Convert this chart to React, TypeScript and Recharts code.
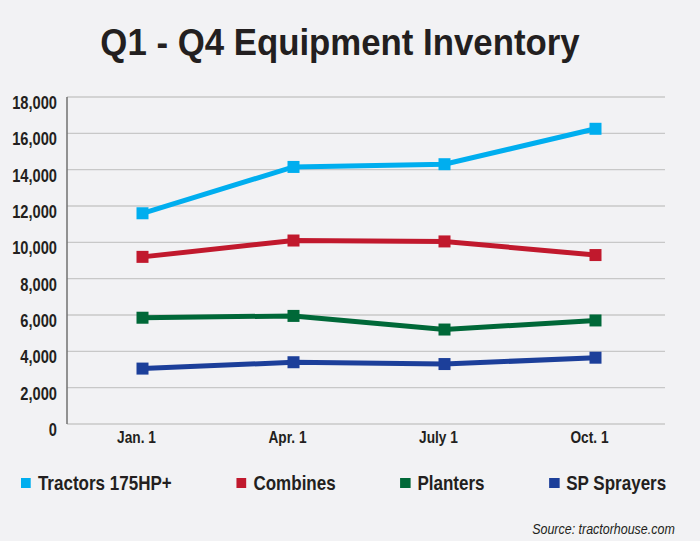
import React from "react";
import {
  LineChart,
  Line,
  XAxis,
  YAxis,
  CartesianGrid,
} from "recharts";

document.body.style.margin = "0";

const quarters = ["Jan. 1", "Apr. 1", "July 1", "Oct. 1"];
const tractors = [11600, 14150, 14300, 16250];
const combines = [9200, 10100, 10050, 9300];
const planters = [5850, 5950, 5200, 5700];
const sprayers = [3050, 3400, 3300, 3650];
const yTicks = [0, 2000, 4000, 6000, 8000, 10000, 12000, 14000, 16000, 18000];
const boundaryTicks = [1, 2, 3, 4];

const series = [
  { key: "tractors", name: "Tractors 175HP+", color: "#00aeef" },
  { key: "combines", name: "Combines", color: "#c1192d" },
  { key: "planters", name: "Planters", color: "#006838" },
  { key: "sprayers", name: "SP Sprayers", color: "#1c3f9a" },
];

const data = quarters.map((q, i) => ({
  name: q,
  tractors: tractors[i],
  combines: combines[i],
  planters: planters[i],
  sprayers: sprayers[i],
}));

// no condensed face installed, so squeeze Liberation Sans horizontally
const sans = '"Liberation Sans", Arial, sans-serif';
const ink = "#231f20";

const SquareDot = (props: any) => {
  const { cx, cy, stroke } = props;
  if (cx == null || cy == null) return null;
  return <rect x={cx - 6} y={cy - 6} width={12} height={12} fill={stroke} />;
};

// grid lines stop a little short of the axis end
const GridLine = (props: any) => {
  const { x1, x2, y1, y2 } = props;
  return <line x1={x1} x2={x2 - 6} y1={y1} y2={y2} stroke="#c8c8c8" strokeWidth={1.3} />;
};

const YTick = (props: any) => {
  const { x, y, payload } = props;
  return (
    <g transform={`translate(${x},${y + 12}) scale(0.78,1)`}>
      <text x={0} y={0} textAnchor="end" fontFamily={sans} fontWeight="bold" fontSize={18.8} fill={ink}>
        {payload.value.toLocaleString("en-US")}
      </text>
    </g>
  );
};

const XTick = (props: any) => {
  const { x, y, payload } = props;
  return (
    <g transform={`translate(${x - 6},${y + 19}) scale(0.83,1)`}>
      <text x={0} y={0} textAnchor="middle" fontFamily={sans} fontWeight="bold" fontSize={16.5} fill={ink}>
        {payload.value}
      </text>
    </g>
  );
};

export default function App() {
  return (
    <div style={{ position: "relative", width: 700, height: 541, background: "#f2f2f4", overflow: "hidden" }}>
      <div
        style={{
          position: "absolute",
          top: 24,
          left: 0,
          width: 680,
          textAlign: "center",
          fontFamily: sans,
          fontWeight: "bold",
          fontSize: 37,
          lineHeight: "37px",
          color: ink,
          transform: "scaleX(0.94)",
          transformOrigin: "340px 0",
        }}
      >
        Q1 - Q4 Equipment Inventory
      </div>
      <LineChart width={700} height={541} data={data} margin={{ top: 97, right: 29, bottom: 87, left: 0 }}>
        <CartesianGrid horizontal={<GridLine />} vertical={false} />
        <XAxis
          xAxisId="edges"
          type="number"
          domain={[0, 4]}
          ticks={boundaryTicks}
          height={0}
          mirror
          tickSize={7}
          tickFormatter={() => ""}
          axisLine={{ stroke: "#707070", strokeWidth: 1.5 }}
          tickLine={{ stroke: "#707070", strokeWidth: 1.2 }}
        />
        <XAxis
          dataKey="name"
          padding={{ left: 75.5, right: 75.5 }}
          axisLine={false}
          tickLine={false}
          tickSize={0}
          tickMargin={0}
          height={30}
          tick={<XTick />}
          interval={0}
        />
        <YAxis
          width={67}
          domain={[0, 18000]}
          ticks={yTicks}
          axisLine={{ stroke: "#707070", strokeWidth: 1.5 }}
          tickLine={false}
          tickSize={0}
          tickMargin={10}
          tick={<YTick />}
          interval={0}
        />
        {series.map((s) => (
          <Line
            key={s.key}
            dataKey={s.key}
            name={s.name}
            stroke={s.color}
            strokeWidth={5}
            dot={<SquareDot />}
            activeDot={false}
            isAnimationActive={false}
          />
        ))}
      </LineChart>
      <div
        style={{
          position: "absolute",
          top: 471,
          left: 21,
          display: "flex",
          gap: 80,
          transform: "scaleX(0.81)",
          transformOrigin: "0 0",
        }}
      >
        {series.map((s) => (
          <div key={s.key} style={{ display: "flex", alignItems: "center" }}>
            <span style={{ width: 12.3, height: 10, background: s.color, marginRight: 8.6, display: "inline-block" }} />
            <span style={{ fontFamily: sans, fontWeight: "bold", fontSize: 21, color: ink, lineHeight: "24px", whiteSpace: "nowrap" }}>
              {s.name}
            </span>
          </div>
        ))}
      </div>
      <div
        style={{
          position: "absolute",
          right: 25,
          top: 521,
          fontFamily: sans,
          fontStyle: "italic",
          fontSize: 15,
          lineHeight: "15px",
          color: ink,
          whiteSpace: "nowrap",
          transform: "scaleX(0.83)",
          transformOrigin: "100% 0",
        }}
      >
        Source: tractorhouse.com
      </div>
    </div>
  );
}
